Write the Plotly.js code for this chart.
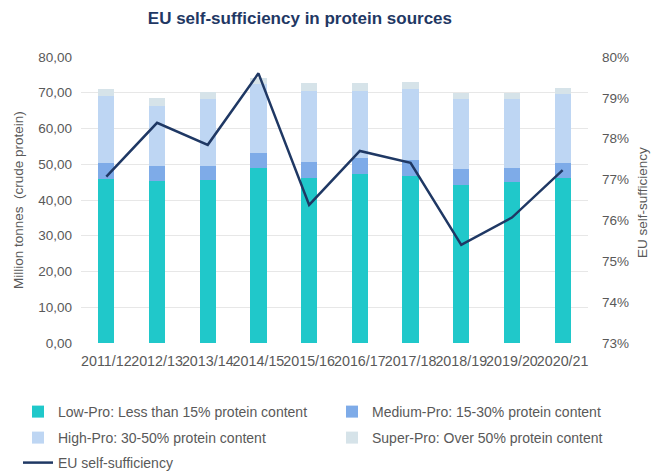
<!DOCTYPE html>
<html><head><meta charset="utf-8">
<script src="https://cdn.plot.ly/plotly-3.0.1.min.js"></script>
<style>html,body{margin:0;padding:0;background:#fff}#chart{width:652px;height:471px}</style>
</head><body><div id="chart"></div>
<script>
const seasons = ["2011/12","2012/13","2013/14","2014/15","2015/16","2016/17","2017/18","2018/19","2019/20","2020/21"];
const lowPro    = [45.8, 45.4, 45.6, 49.0, 46.2, 47.2, 46.8, 44.1, 44.9, 46.2];
const mediumPro = [4.5, 4.1, 3.9, 4.2, 4.4, 4.5, 4.4, 4.5, 4.0, 4.1];
const highPro   = [18.8, 16.8, 18.8, 19.2, 20.0, 18.9, 19.8, 19.6, 19.4, 19.3];
const superPro  = [1.9, 2.1, 2.0, 1.7, 2.0, 2.0, 1.9, 1.6, 1.7, 1.8];
const selfSufficiency = [0.7707, 0.7839, 0.7785, 0.7960, 0.7638, 0.7770, 0.7741, 0.7540, 0.7607, 0.7723];

const names = {
  low: "Low-Pro: Less than 15% protein content",
  med: "Medium-Pro: 15-30% protein content",
  high: "High-Pro: 30-50% protein content",
  sup: "Super-Pro: Over 50% protein content",
  line: "EU self-sufficiency"
};
const leftTitle = "Million tonnes  (crude protein)";
const rightTitle = "EU self-sufficiency";

const FONT = "Liberation Sans, Arial, sans-serif";
const GRAY = "#595959";

const traces = [
  {type:"bar", name:names.low, x:seasons, y:lowPro, marker:{color:"#20C8CA"}, legend:"legend"},
  {type:"bar", name:names.med, x:seasons, y:mediumPro, marker:{color:"#7EABE8"}, legend:"legend2"},
  {type:"bar", name:names.high, x:seasons, y:highPro, marker:{color:"#BED6F3"}, legend:"legend3"},
  {type:"bar", name:names.sup, x:seasons, y:superPro, marker:{color:"#D6E3E9"}, legend:"legend4"},
  {type:"scatter", mode:"lines", name:names.line, x:seasons, y:selfSufficiency, yaxis:"y2",
   line:{color:"#1F3864", width:2.5}, legend:"legend5"}
];

function leg(xpx, ypx) {
  return {
    orientation:"v", xref:"container", yref:"container", xanchor:"left", yanchor:"middle",
    x:xpx/652, y:1-ypx/471, font:{family:FONT, size:14, color:GRAY},
    bgcolor:"rgba(0,0,0,0)", itemwidth:30
  };
}

const layout = {
  width:652, height:471,
  margin:{l:81, r:64, t:57, b:128, autoexpand:false},
  paper_bgcolor:"#fff", plot_bgcolor:"#fff",
  separators:",.",
  barmode:"stack", bargap:0.68,
  font:{family:FONT, color:GRAY, size:13},
  title:{text:"<b>EU self-sufficiency in protein sources</b>", x:0.46, xanchor:"center", y:0.962, yanchor:"middle",
         font:{family:FONT, size:17, color:"#1F3864"}},
  xaxis:{type:"category", tickangle:0, tickfont:{size:14.3, color:GRAY}, showgrid:false,
         showline:false, zeroline:false, ticks:"", ticklabelstandoff:8},
  yaxis:{range:[0,80], dtick:10, tickformat:".2f", gridcolor:"#E7E7E7", gridwidth:1,
         zeroline:false, tickfont:{size:13.5, color:GRAY}, ticklabelstandoff:8},
  yaxis2:{overlaying:"y", side:"right", range:[0.73,0.80], dtick:0.01, tickformat:".0%",
          showgrid:false, zeroline:false, tickfont:{size:13.5, color:GRAY}, ticklabelstandoff:13},
  annotations:[
    {text:leftTitle, xref:"paper", yref:"paper", x:(18-81)/507, y:(343-200)/286, textangle:-90,
     showarrow:false, xanchor:"center", yanchor:"middle", font:{family:FONT, size:13.5, color:GRAY}},
    {text:rightTitle, xref:"paper", yref:"paper", x:(643-81)/507, y:(343-203)/286, textangle:-90,
     showarrow:false, xanchor:"center", yanchor:"middle", font:{family:FONT, size:13.5, color:GRAY}}
  ],
  legend: leg(18, 412),
  legend2: leg(332, 412),
  legend3: leg(18, 438),
  legend4: leg(332, 438),
  legend5: leg(18, 463),
  showlegend:true
};

Plotly.newPlot("chart", traces, layout, {displayModeBar:false, staticPlot:true});
</script>
</body></html>
